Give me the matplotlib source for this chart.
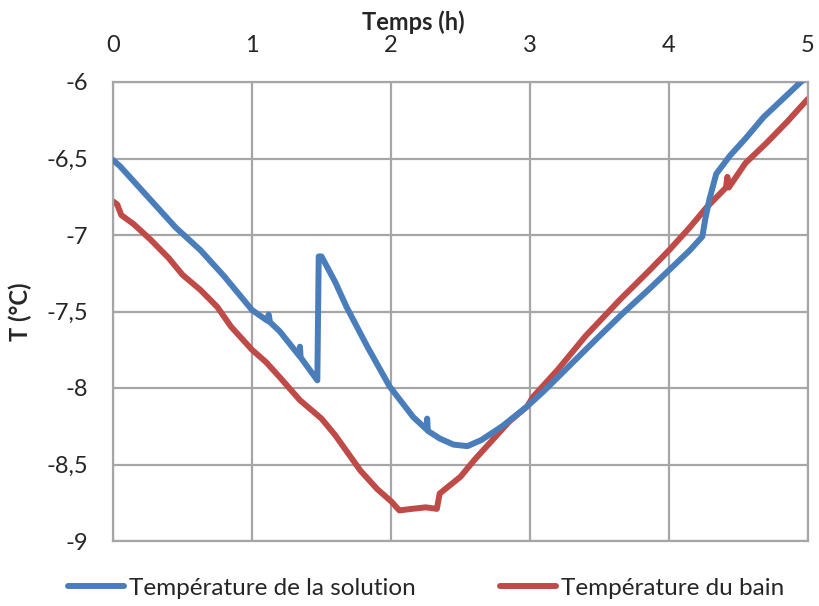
import numpy as np
import matplotlib
matplotlib.use('Agg')
from matplotlib import pyplot as plt
from matplotlib.lines import Line2D
from matplotlib.ticker import FuncFormatter, MultipleLocator

plt.rcParams['font.family'] = ['Lato', 'DejaVu Sans']

# solution temperature (blue)
t_sol = [0.00, 0.05, 0.14, 0.30, 0.45, 0.63, 0.80, 1.00, 1.11, 1.12, 1.13, 1.20,
         1.34, 1.345, 1.35, 1.47, 1.48, 1.50, 1.60, 1.68, 1.83, 1.99, 2.16,
         2.255, 2.26, 2.265, 2.35, 2.45, 2.55, 2.65, 2.80, 2.98, 3.10, 3.30, 3.50,
         3.67, 3.85, 4.00, 4.15, 4.24, 4.26, 4.29, 4.34, 4.44, 4.55, 4.68, 4.82, 4.96]
T_sol = [-6.51, -6.55, -6.64, -6.80, -6.95, -7.10, -7.27, -7.49, -7.56, -7.52, -7.57, -7.63,
         -7.79, -7.73, -7.80, -7.95, -7.14, -7.14, -7.31, -7.47, -7.73, -7.99, -8.19,
         -8.27, -8.20, -8.28, -8.33, -8.37, -8.38, -8.34, -8.25, -8.12, -8.02, -7.84, -7.66,
         -7.51, -7.36, -7.23, -7.10, -7.01, -6.90, -6.77, -6.60, -6.48, -6.37, -6.23, -6.11, -5.99]

# bath temperature (red)
t_bain = [0.00, 0.03, 0.06, 0.15, 0.27, 0.40, 0.50, 0.63, 0.75, 0.85, 1.00, 1.10,
          1.20, 1.345, 1.50, 1.60, 1.78, 1.90, 2.00, 2.06, 2.15, 2.25, 2.33, 2.35,
          2.50, 2.60, 2.73, 2.85, 2.98, 3.02, 3.20, 3.40, 3.65, 3.85, 4.00, 4.15,
          4.27, 4.41, 4.42, 4.43, 4.55, 4.70, 4.85, 5.00]
T_bain = [-6.78, -6.80, -6.87, -6.93, -7.03, -7.15, -7.26, -7.36, -7.47, -7.60, -7.75, -7.83,
          -7.93, -8.08, -8.20, -8.31, -8.54, -8.66, -8.74, -8.80, -8.79, -8.78, -8.79, -8.69,
          -8.58, -8.47, -8.34, -8.22, -8.12, -8.06, -7.88, -7.66, -7.42, -7.24, -7.10, -6.95,
          -6.82, -6.69, -6.62, -6.69, -6.53, -6.40, -6.26, -6.11]

blue = '#4a7ebb'
red = '#be4b48'
grid_c = '#a6a6a6'
txt_c = '#262626'

fig = plt.figure(figsize=(8.19, 6.06), dpi=100)
ax = fig.add_axes([113/819, 1 - 541/606, 695/819, 459/606])

ax.plot(t_sol, T_sol, color=blue, lw=4.3, solid_capstyle='round', solid_joinstyle='round', zorder=3)
ax.plot(t_bain, T_bain, color=red, lw=4.3, solid_capstyle='round', solid_joinstyle='round', zorder=2)

ax.set_xlim(0, 5)
ax.set_ylim(-9, -6)
ax.xaxis.set_major_locator(MultipleLocator(1))
ax.yaxis.set_major_locator(MultipleLocator(0.5))
ax.yaxis.set_major_formatter(FuncFormatter(lambda v, p: ('%g' % v).replace('.', ',')))
ax.xaxis.tick_top()
ax.xaxis.set_label_position('top')
ax.tick_params(length=0, labelsize=17, labelcolor=txt_c)
ax.tick_params(axis='x', pad=19)
ax.tick_params(axis='y', pad=18)
ax.grid(True, color=grid_c, lw=1.6)
ax.set_axisbelow(True)
for s in ax.spines.values():
    s.set_color(grid_c)
    s.set_linewidth(1.6)

ax.set_xlabel('Temps (h)', fontsize=17, fontweight='bold', labelpad=1, color=txt_c)
ax.xaxis.set_label_coords(0.432, 1.0 + 60/459, transform=ax.transAxes)
ax.xaxis.label.set_va('center')
ax.set_ylabel('T (°C)', fontsize=17, fontweight='bold', labelpad=10, color=txt_c)

# two legend entries, placed where the reference has them
for lbl, col, x0 in [('Température de la solution', blue, 68), ('Température du bain', red, 500)]:
    h = Line2D([], [], color=col, lw=4.3, solid_capstyle='round')
    fig.legend([h], [lbl], loc='center left', bbox_to_anchor=(x0/819, 1 - 588/606),
               frameon=False, fontsize=17.5, handlelength=2.3, handletextpad=0.2,
               borderpad=0, borderaxespad=0, labelcolor=txt_c)

plt.savefig('out.png')
